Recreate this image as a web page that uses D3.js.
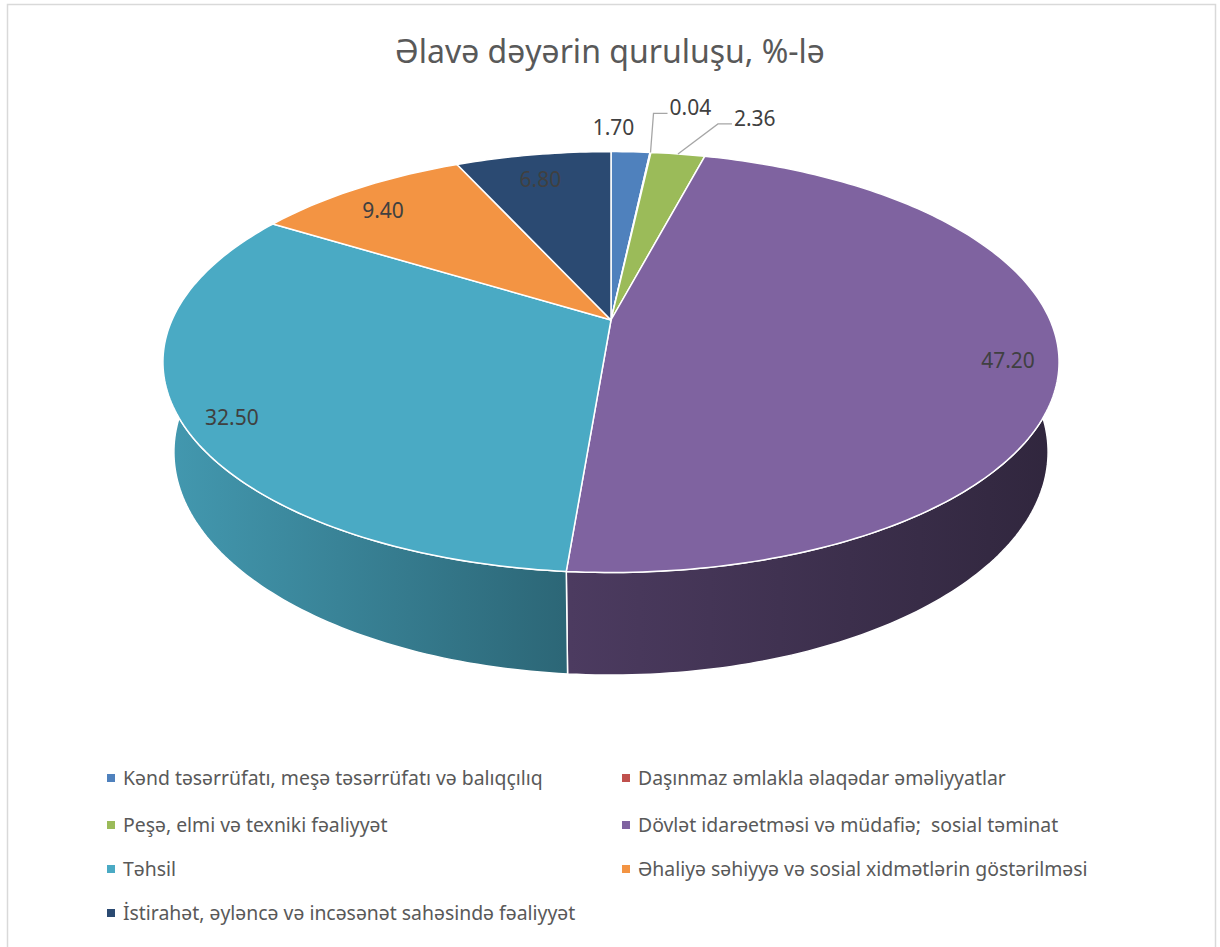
<!DOCTYPE html>
<html lang="az">
<head>
<meta charset="UTF-8">
<script src="https://d3js.org/d3.v7.min.js"></script>
<title>Əlavə dəyərin quruluşu</title>
<style>
  body { margin: 0; background: #fff; }
  text { font-family: "Noto Sans", "Open Sans", sans-serif; white-space: pre; }
</style>
</head>
<body>
<div id="chart"></div>
<script>
// categories and values (percent)
var categories = [
  "Kənd təsərrüfatı, meşə təsərrüfatı və balıqçılıq",
  "Daşınmaz əmlakla əlaqədar əməliyyatlar",
  "Peşə, elmi və texniki fəaliyyət",
  "Dövlət idarəetməsi və müdafiə;  sosial təminat",
  "Təhsil",
  "Əhaliyə səhiyyə və sosial xidmətlərin göstərilməsi",
  "İstirahət, əyləncə və incəsənət sahəsində fəaliyyət"
];
var values = [1.70, 0.04, 2.36, 47.20, 32.50, 9.40, 6.80];
var labels = ["1.70", "0.04", "2.36", "47.20", "32.50", "9.40", "6.80"];
var colors = ["#4f81bd", "#c0504d", "#9bbb59", "#7f63a0", "#4aaac4", "#f39443", "#2b4a72"];

var W = 1220, H = 947;
var svg = d3.select("#chart").append("svg")
    .attr("width", W).attr("height", H);

// chart frame
svg.append("rect")
    .attr("x", 7.5).attr("y", 4.5)
    .attr("width", 1208).attr("height", 960)
    .attr("fill", "#fff").attr("stroke", "#d9d9d9").attr("stroke-width", 1.5);

// title
svg.append("text")
    .attr("x", 610).attr("y", 63)
    .attr("text-anchor", "middle")
    .style("font-size", "32px")
    .style("fill", "#595959")
    .text("Əlavə dəyərin quruluşu, %-lə");

// simple perspective camera for the 3D pie
var cam = {cx: 611, cy: 320, f: 1951, D: 4.444, tilt: 27.4 * Math.PI / 180, depth: 0.2325};
var cosT = Math.cos(cam.tilt), sinT = Math.sin(cam.tilt);

function project(r, a, level) {
  // r: radius fraction, a: angle clockwise from 12 o'clock, level 0 = top, 1 = bottom
  var x = r * Math.sin(a), z = r * Math.cos(a), y = -level * cam.depth;
  var d = cam.D + z * cosT - y * sinT;
  return [cam.cx + cam.f * x / d, cam.cy - cam.f * (y * cosT + z * sinT) / d];
}

function arcPoints(a0, a1, level) {
  var n = Math.max(2, Math.ceil((a1 - a0) / (Math.PI / 180)));
  return d3.range(n + 1).map(function (i) { return project(1, a0 + (a1 - a0) * i / n, level); });
}

var pie = d3.pie().sort(null).value(function (d) { return d; });
var arcs = pie(values);
var line = d3.line();

// side wall gradients: light on the left, dark on the right
var defs = svg.append("defs");
function shade(c, k) {
  var rgb = d3.rgb(c);
  return d3.rgb(rgb.r * k, rgb.g * k, rgb.b * k).toString();
}
arcs.forEach(function (d, i) {
  var g = defs.append("linearGradient")
      .attr("id", "wall" + i)
      .attr("gradientUnits", "userSpaceOnUse")
      .attr("x1", 163).attr("x2", 1059).attr("y1", 0).attr("y2", 0);
  [[0, 0.9], [0.454, 0.6], [1, 0.38]].forEach(function (s) {
    g.append("stop").attr("offset", s[0]).attr("stop-color", shade(colors[i], s[1]));
  });
});

// walls (front part only; the back is hidden by the top)
var frontFrom = Math.PI * 0.42, frontTo = Math.PI * 1.58;
var walls = svg.append("g");
arcs.forEach(function (d, i) {
  var a0 = Math.max(d.startAngle, frontFrom), a1 = Math.min(d.endAngle, frontTo);
  if (a1 <= a0) return;
  var pts = arcPoints(a0, a1, 0).concat(arcPoints(a0, a1, 1).reverse());
  walls.append("path")
      .attr("d", line(pts) + "Z")
      .attr("fill", "url(#wall" + i + ")")
      .attr("stroke", "#fff").attr("stroke-width", 1.5)
      .attr("stroke-linejoin", "round");
});

// top faces
var tops = svg.append("g");
arcs.forEach(function (d, i) {
  var pts = [project(0, 0, 0)].concat(arcPoints(d.startAngle, d.endAngle, 0));
  tops.append("path")
      .attr("d", line(pts) + "Z")
      .attr("fill", colors[i])
      .attr("stroke", "#fff").attr("stroke-width", 1.5)
      .attr("stroke-linejoin", "round");
});

// data labels
var lab = svg.append("g")
    .style("font-size", "21px")
    .style("fill", "#404040");

// inside labels for the larger slices, small ones go outside with leaders
var outside = {
  0: {dx: -17, dy: -17, leader: false},
  1: {dx: 3, dy: -39, leader: true},
  2: {dx: 40, dy: -30, leader: true}
};
arcs.forEach(function (d, i) {
  var mid = (d.startAngle + d.endAngle) / 2;
  var o = outside[i];
  if (!o) {
    var p = project(0.89, mid, 0);
    lab.append("text")
        .attr("x", p[0]).attr("y", p[1] + 17)
        .attr("text-anchor", "middle")
        .text(labels[i]);
    return;
  }
  var e = project(1, mid, 0);
  var elbow = [e[0] + o.dx, e[1] + o.dy];
  if (o.leader) {
    lab.append("path")
        .attr("d", line([e, elbow, [elbow[0] + 14, elbow[1]]]))
        .attr("fill", "none")
        .attr("stroke", "#a6a6a6").attr("stroke-width", 1.3);
    lab.append("text")
        .attr("x", elbow[0] + 16).attr("y", elbow[1] + 2)
        .text(labels[i]);
  } else {
    lab.append("text")
        .attr("x", e[0] + o.dx).attr("y", e[1] + o.dy)
        .attr("text-anchor", "middle")
        .text(labels[i]);
  }
});

// legend, two columns
var legendRows = [778, 825, 869, 913];
var legendCols = [107, 622];
var legend = svg.append("g")
    .style("font-size", "19.4px")
    .style("fill", "#595959");
categories.forEach(function (c, i) {
  var x = legendCols[i % 2], y = legendRows[Math.floor(i / 2)];
  legend.append("rect")
      .attr("x", x).attr("y", y - 4)
      .attr("width", 8).attr("height", 8)
      .attr("fill", colors[i]);
  legend.append("text")
      .attr("x", x + 16).attr("y", y + 7)
      .text(c);
});
</script>
</body>
</html>
